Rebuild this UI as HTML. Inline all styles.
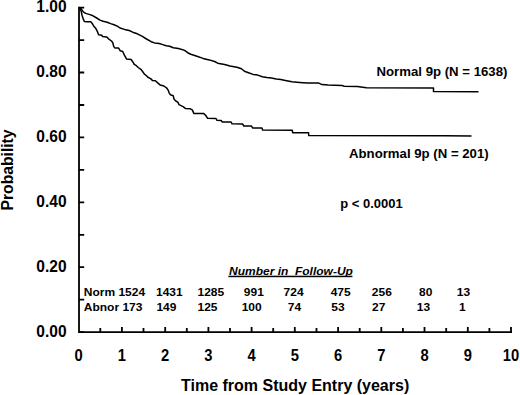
<!DOCTYPE html>
<html><head><meta charset="utf-8"><style>
html,body{margin:0;padding:0;background:#fff;}
body{width:520px;height:395px;overflow:hidden;}
svg{display:block;}
text{font-family:"Liberation Sans",sans-serif;font-weight:bold;fill:#000;}
</style></head><body>
<svg width="520" height="395" viewBox="0 0 520 395">
<rect width="520" height="395" fill="#fff"/>

<path d="M79,6.8 V332.1 H512" fill="none" stroke="#000" stroke-width="1.8"/>
<path d="M79,332.1 H84.2 M79,299.7 H84.2 M79,267.2 H84.2 M79,234.8 H84.2 M79,202.3 H84.2 M79,169.9 H84.2 M79,137.4 H84.2 M79,105.0 H84.2 M79,72.5 H84.2 M79,40.1 H84.2 M79,7.6 H84.2 M100.3,332.1 V328.1 M121.9,332.1 V327.1 M143.5,332.1 V328.1 M165.2,332.1 V327.1 M186.8,332.1 V328.1 M208.4,332.1 V327.1 M230.0,332.1 V328.1 M251.6,332.1 V327.1 M273.2,332.1 V328.1 M294.8,332.1 V327.1 M316.5,332.1 V328.1 M338.1,332.1 V327.1 M359.7,332.1 V328.1 M381.3,332.1 V327.1 M402.9,332.1 V328.1 M424.5,332.1 V327.1 M446.2,332.1 V328.1 M467.8,332.1 V327.1 M489.4,332.1 V328.1 M511.0,332.1 V327.1" fill="none" stroke="#000" stroke-width="1.8"/>
<text transform="translate(66.5,336.6) scale(1,1.07)" font-size="15.5" text-anchor="end">0.00</text>
<text transform="translate(66.5,271.7) scale(1,1.07)" font-size="15.5" text-anchor="end">0.20</text>
<text transform="translate(66.5,206.8) scale(1,1.07)" font-size="15.5" text-anchor="end">0.40</text>
<text transform="translate(66.5,141.9) scale(1,1.07)" font-size="15.5" text-anchor="end">0.60</text>
<text transform="translate(66.5,77.0) scale(1,1.07)" font-size="15.5" text-anchor="end">0.80</text>
<text transform="translate(66.5,12.1) scale(1,1.07)" font-size="15.5" text-anchor="end">1.00</text>
<text transform="translate(78.7,360.7) scale(0.95,1.05)" font-size="15.5" text-anchor="middle">0</text>
<text transform="translate(121.93,360.7) scale(0.95,1.05)" font-size="15.5" text-anchor="middle">1</text>
<text transform="translate(165.16,360.7) scale(0.95,1.05)" font-size="15.5" text-anchor="middle">2</text>
<text transform="translate(208.39,360.7) scale(0.95,1.05)" font-size="15.5" text-anchor="middle">3</text>
<text transform="translate(251.62,360.7) scale(0.95,1.05)" font-size="15.5" text-anchor="middle">4</text>
<text transform="translate(294.85,360.7) scale(0.95,1.05)" font-size="15.5" text-anchor="middle">5</text>
<text transform="translate(338.08,360.7) scale(0.95,1.05)" font-size="15.5" text-anchor="middle">6</text>
<text transform="translate(381.31,360.7) scale(0.95,1.05)" font-size="15.5" text-anchor="middle">7</text>
<text transform="translate(424.54,360.7) scale(0.95,1.05)" font-size="15.5" text-anchor="middle">8</text>
<text transform="translate(467.77,360.7) scale(0.95,1.05)" font-size="15.5" text-anchor="middle">9</text>
<text transform="translate(511.0,360.7) scale(0.95,1.05)" font-size="15.5" text-anchor="middle">10</text>
<polyline points="79.8,7.4 82.1,10.1 83.3,11.9 85.7,13.4 90.0,14.6 93.0,15.8 96.7,18.0 100.0,20.1 103.1,21.3 107.2,22.2 110.6,23.6 114.1,24.8 117.7,26.4 120.0,28.0 124.6,29.4 129.2,30.5 132.7,32.2 137.3,33.8 141.9,36.2 146.5,39.0 151.2,41.7 154.6,42.9 159.2,43.5 162.7,44.6 166.2,45.8 169.6,46.3 173.3,47.8 178.5,48.5 184.6,50.4 187.7,52.7 190.8,54.2 196.9,56.2 203.1,58.4 209.2,59.9 214.6,61.5 217.7,63.2 224.6,64.5 230.0,65.9 236.9,67.3 241.5,68.8 244.4,71.3 248.5,72.7 253.1,74.4 257.7,75.1 262.3,76.7 266.9,77.5 271.5,77.9 276.2,79.0 280.8,79.6 285.4,80.5 291.9,81.8 299.6,82.4 307.3,83.0 318.8,83.1 321.9,84.6 328.1,85.1 341.9,85.4 344.2,86.2 357.3,86.6 366.5,87.7 433.5,88.0 433.5,91.4 478.5,91.7" fill="none" stroke="#000" stroke-width="1.5" stroke-linejoin="round"/>
<polyline points="79.8,7.4 81.2,11.3 82.1,15.5 83.3,19.2 84.5,21.6 86.9,21.8 90.8,21.8 92.2,23.4 93.6,25.9 95.5,27.9 97.3,31.3 98.6,34.8 101.7,35.3 102.6,36.5 106.6,36.9 108.5,38.8 111.5,41.0 112.8,42.8 113.7,46.4 115.0,48.1 118.6,48.1 120.3,50.8 122.7,51.5 124.4,55.1 126.6,59.1 131.1,59.5 133.3,62.6 134.2,64.4 136.4,65.7 138.2,67.5 140.8,69.3 142.6,71.5 144.4,74.2 146.2,75.5 147.9,77.3 150.6,78.6 152.4,80.4 155.4,80.7 157.7,82.9 160.3,85.1 163.9,86.0 166.5,87.8 168.3,90.4 169.2,93.1 170.5,94.8 173.2,95.7 174.1,99.3 175.8,101.0 178.1,102.4 178.9,104.6 181.6,105.9 183.4,106.8 185.6,108.6 190.3,108.8 192.3,109.9 193.8,113.4 203.8,113.6 205.8,115.5 207.6,118.3 216.0,118.5 217.0,120.3 221.2,120.5 222.2,121.9 231.0,121.9 232.1,123.8 242.7,124.1 243.8,126.0 251.5,126.1 252.6,127.9 262.0,128.1 262.6,130.1 292.3,130.2 292.6,132.7 308.5,132.7 308.8,135.6 445.0,135.7 471.5,136.0" fill="none" stroke="#000" stroke-width="1.5" stroke-linejoin="round"/>
<text transform="translate(376.5,76) scale(1,0.97)" font-size="13.2">Normal 9p (N = 1638)</text>
<text transform="translate(349,158) scale(1,0.97)" font-size="13.2">Abnormal 9p (N = 201)</text>
<text transform="translate(340.3,208.3) scale(1,0.97)" font-size="13">p &lt; 0.0001</text>
<text transform="translate(229,275.2) scale(1,0.93)" font-size="12" font-style="italic" style="white-space:pre">Number in  Follow-Up</text>
<rect x="228.4" y="275.7" width="124" height="1.5" fill="#000"/>
<text transform="translate(83.8,295.7) scale(1,0.93)" font-size="12">Norm 1524</text>
<text transform="translate(156.0,295.7) scale(1,0.93)" font-size="12">1431</text>
<text transform="translate(197.5,295.7) scale(1,0.93)" font-size="12">1285</text>
<text transform="translate(243.8,295.7) scale(1,0.93)" font-size="12">991</text>
<text transform="translate(283.6,295.7) scale(1,0.93)" font-size="12">724</text>
<text transform="translate(330.7,295.7) scale(1,0.93)" font-size="12">475</text>
<text transform="translate(371.8,295.7) scale(1,0.93)" font-size="12">256</text>
<text transform="translate(419,295.7) scale(1,0.93)" font-size="12">80</text>
<text transform="translate(456.8,295.7) scale(1,0.93)" font-size="12">13</text>
<text transform="translate(83.8,310.7) scale(1,0.93)" font-size="12">Abnor 173</text>
<text transform="translate(156.4,310.7) scale(1,0.93)" font-size="12">149</text>
<text transform="translate(197.5,310.7) scale(1,0.93)" font-size="12">125</text>
<text transform="translate(241.7,310.7) scale(1,0.93)" font-size="12">100</text>
<text transform="translate(287.8,310.7) scale(1,0.93)" font-size="12">74</text>
<text transform="translate(331.3,310.7) scale(1,0.93)" font-size="12">53</text>
<text transform="translate(372.1,310.7) scale(1,0.93)" font-size="12">27</text>
<text transform="translate(416.8,310.7) scale(1,0.93)" font-size="12">13</text>
<text transform="translate(459.0,310.7) scale(1,0.93)" font-size="12">1</text>
<text x="181" y="390.7" font-size="16">Time from Study Entry (years)</text>
<text transform="translate(12.6,210.5) rotate(-90)" x="0" y="0" font-size="15.7">Probability</text>
</svg>
</body></html>
